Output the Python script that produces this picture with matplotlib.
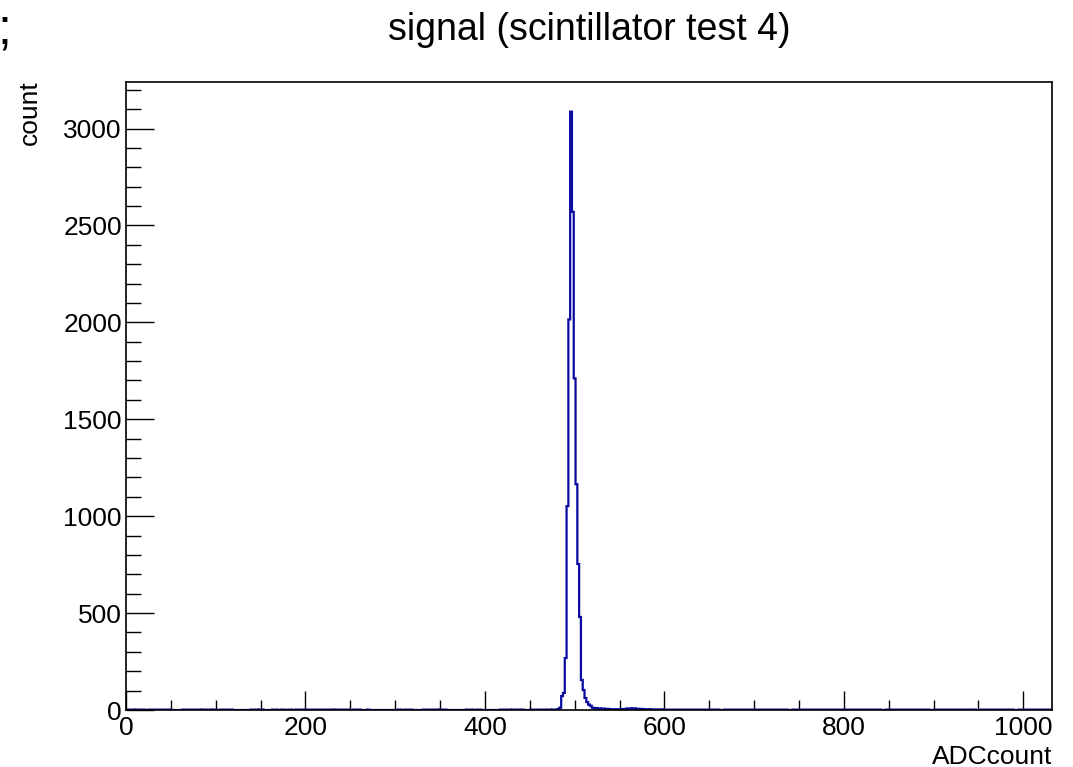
import numpy as np
import matplotlib
matplotlib.use("Agg")
import matplotlib.pyplot as plt
from matplotlib.ticker import MultipleLocator

plt.rcParams["font.family"] = ["Liberation Sans", "DejaVu Sans"]

BIN_WIDTH = 2
X_MAX = 1032
Y_MAX = 3240
LINE_COLOR = "#0a0aa0"

# peak region: bin centres and counts
peak_centers = [480, 482, 484, 486, 488, 490, 492, 494, 496, 498,
                500, 502, 504, 506, 508, 510, 512, 514, 516, 518,
                520, 522, 524, 526, 528, 530, 532, 534, 536, 538,
                540, 542, 544, 546, 548, 550, 552, 554, 556, 558,
                560, 562, 564, 566, 568, 570, 572, 574, 576, 578,
                580, 582, 584, 586, 588, 590, 592, 594, 596, 598]
peak_counts = [2, 4, 12, 72, 88, 268, 1052, 2015, 3087, 2570,
               1711, 1165, 753, 480, 155, 103, 62, 41, 28, 22,
               12, 10, 9, 8, 8, 7, 7, 6, 6, 5,
               4, 4, 4, 4, 4, 4, 4, 5, 5, 6,
               8, 8, 7, 8, 7, 6, 6, 5, 5, 4,
               4, 4, 4, 3, 3, 3, 3, 3, 3, 3]

# sparse background: ranges of bins holding a couple of counts
baseline_count = 2
baseline_runs = [(0, 8), (12, 21), (25, 34), (36, 49), (64, 82), (86, 94),
                 (97, 101), (105, 118), (140, 146), (149, 153), (164, 168),
                 (173, 177), (181, 185), (190, 198), (201, 231), (233, 248),
                 (253, 261), (270, 271), (303, 307), (311, 318), (331, 346),
                 (350, 357), (380, 387), (391, 394), (417, 428), (432, 443),
                 (452, 472), (476, 478), (600, 660), (668, 736), (744, 840),
                 (848, 894), (902, 946), (954, 988), (996, 1032)]

centers = np.arange(0, X_MAX + BIN_WIDTH, BIN_WIDTH)
counts = np.zeros(len(centers))
for start, stop in baseline_runs:
    counts[(centers >= start) & (centers <= stop)] = baseline_count
for c, n in zip(peak_centers, peak_counts):
    counts[centers == c] = n
edges = np.append(centers - BIN_WIDTH / 2, centers[-1] + BIN_WIDTH / 2)

fig = plt.figure(figsize=(10.73, 7.67), dpi=100)
ax = fig.add_axes([126 / 1073, 1 - 710 / 767, (1052 - 126) / 1073, (710 - 82) / 767])

ax.stairs(counts, edges, color=LINE_COLOR, linewidth=1.6, zorder=2)

ax.set_xlim(0, X_MAX)
ax.set_ylim(0, Y_MAX)

ax.xaxis.set_major_locator(MultipleLocator(200))
ax.xaxis.set_minor_locator(MultipleLocator(50))
ax.yaxis.set_major_locator(MultipleLocator(500))
ax.yaxis.set_minor_locator(MultipleLocator(100))

ax.tick_params(axis="x", which="major", direction="in", length=14, width=1, labelsize=19, pad=4)
ax.tick_params(axis="x", which="minor", direction="in", length=7, width=1)
ax.tick_params(axis="y", which="major", direction="in", length=20, width=1, labelsize=19, pad=3)
ax.tick_params(axis="y", which="minor", direction="in", length=11, width=1)
ax.tick_params(top=False, right=False, which="both")

for sp in ax.spines.values():
    sp.set_linewidth(1.2)
    sp.set_zorder(3)

fig.text(589.5 / 1073, 1 - 30 / 767, "signal (scintillator test 4)", fontsize=27,
         ha="center", va="center")
fig.text(30 / 1073, 1 - 80 / 767, "count", fontsize=19, rotation=90, ha="center", va="top")
fig.text(1052 / 1073, 1 - 757 / 767, "ADCcount", fontsize=19, ha="right", va="center")
fig.text(-2 / 1073, 1 - 44 / 767, ";", fontsize=36, ha="left", va="baseline")

fig.savefig("out.png", dpi=100)
